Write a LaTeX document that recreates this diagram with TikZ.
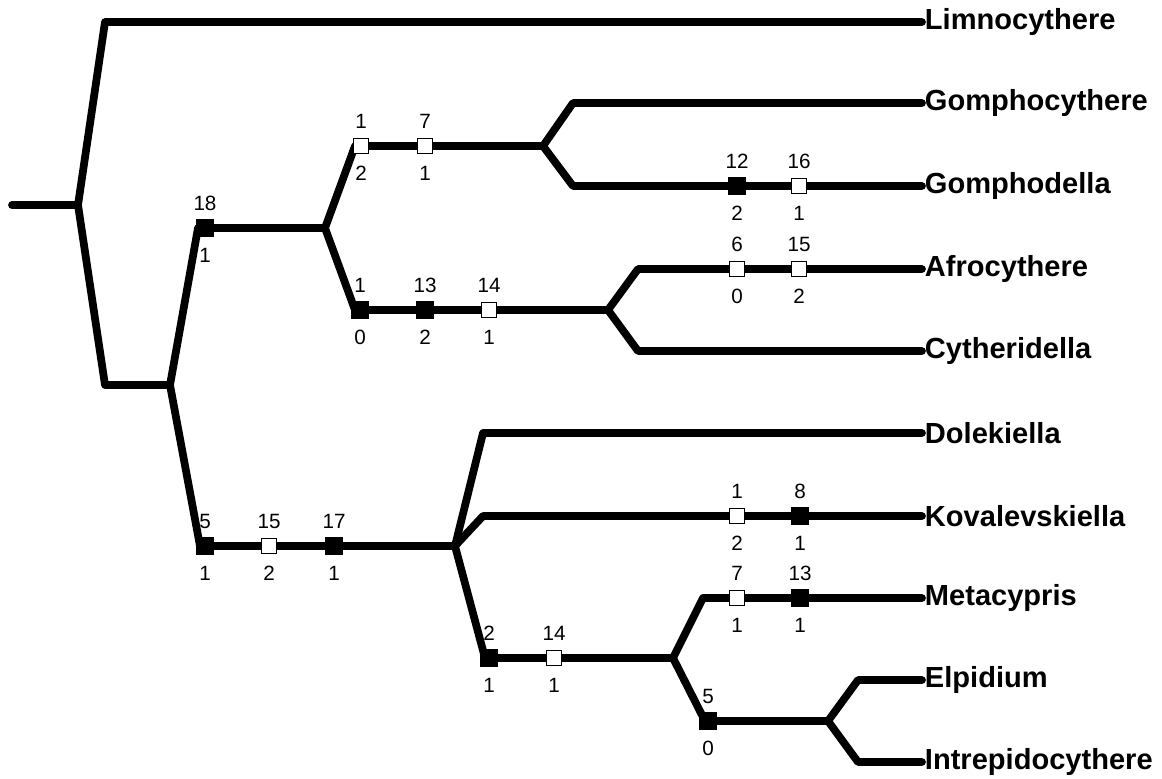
\documentclass[tikz,border=0pt]{standalone}
\usepackage{fontspec}
\setmainfont{Liberation Sans}
\usetikzlibrary{calc}
\newcommand\charbox[5]{%
  \node[#3] (#1) at (#2) {};
  \node[num] (#1t) at ($(#1)+(0,-25)$) {#4};
  \node[num] (#1b) at ($(#1)+(0,27)$) {#5};}
\begin{document}
\begin{tikzpicture}[x=0.75pt,y=-0.75pt,
 br/.style={line width=5.8pt, line join=round, line cap=round},
 wbox/.style={draw=black, fill=white, line width=1.1pt, minimum size=11.5pt, inner sep=0pt},
 bbox/.style={draw=black, fill=black, line width=1.1pt, minimum size=12pt, inner sep=0pt},
 leaf/.style={anchor=west, font=\fontsize{21.8}{24}\selectfont\bfseries, inner sep=2pt},
 num/.style={font=\fontsize{15.5}{17}\selectfont, inner sep=0pt}]
\useasboundingbox (0,0) rectangle (1162,778);
% leaves
\node[leaf] (Li) at (922,22) {Limnocythere};
\node[leaf] (Go) at (922,103) {Gomphocythere};
\node[leaf] (Gd) at (922,186) {Gomphodella};
\node[leaf] (Af) at (922,269) {Afrocythere};
\node[leaf] (Cy) at (922,351) {Cytheridella};
\node[leaf] (Do) at (922,433) {Dolekiella};
\node[leaf] (Ko) at (922,516) {Kovalevskiella};
\node[leaf] (Me) at (922,598) {Metacypris};
\node[leaf] (El) at (922,680) {Elpidium};
\node[leaf] (In) at (922,762) {Intrepidocythere};
% internal points
\coordinate (r0) at (12,205);
\coordinate (root) at (78,205);
\coordinate (kL) at (105,22);
\coordinate (kA) at (105,385);
\coordinate (nA) at (170,385);
\coordinate (kB) at (198,228);
\coordinate (nB) at (325,228);
\coordinate (kC) at (355,146);
\coordinate (nC) at (543,146);
\coordinate (kGo) at (573,103);
\coordinate (kGd) at (573,186);
\coordinate (kD) at (355,310);
\coordinate (nD) at (608,310);
\coordinate (kAf) at (638,269);
\coordinate (kCy) at (638,351);
\coordinate (kE) at (200,546);
\coordinate (nE) at (455,546);
\coordinate (kDo) at (483,433);
\coordinate (kKo) at (483,516);
\coordinate (kF) at (485,658);
\coordinate (nF) at (673,658);
\coordinate (kMe) at (703,598);
\coordinate (kG) at (705,721);
\coordinate (nG) at (828,721);
\coordinate (kEl) at (858,680);
\coordinate (kIn) at (858,762);
% branches
\draw[br] (r0) -- (root);
\draw[br] (root) -- (kL) -- (Li.west);
\draw[br] (root) -- (kA) -- (nA);
\draw[br] (nA) -- (kB) -- (nB);
\draw[br] (nB) -- (kC) -- (nC);
\draw[br] (nC) -- (kGo) -- (Go.west);
\draw[br] (nC) -- (kGd) -- (Gd.west);
\draw[br] (nB) -- (kD) -- (nD);
\draw[br] (nD) -- (kAf) -- (Af.west);
\draw[br] (nD) -- (kCy) -- (Cy.west);
\draw[br] (nA) -- (kE) -- (nE);
\draw[br] (nE) -- (kDo) -- (Do.west);
\draw[br] (nE) -- (kKo) -- (Ko.west);
\draw[br] (nE) -- (kF) -- (nF);
\draw[br] (nF) -- (kMe) -- (Me.west);
\draw[br] (nF) -- (kG) -- (nG);
\draw[br] (nG) -- (kEl) -- (El.west);
\draw[br] (nG) -- (kIn) -- (In.west);
% character boxes
\charbox{bA}{205,228}{bbox}{18}{1}
\charbox{bB}{361,146}{wbox}{1}{2}
\charbox{bC}{425,146}{wbox}{7}{1}
\charbox{bD}{737,186}{bbox}{12}{2}
\charbox{bE}{799,186}{wbox}{16}{1}
\charbox{bF}{360,310}{bbox}{1}{0}
\charbox{bG}{425,310}{bbox}{13}{2}
\charbox{bH}{489,310}{wbox}{14}{1}
\charbox{bI}{737,269}{wbox}{6}{0}
\charbox{bJ}{799,269}{wbox}{15}{2}
\charbox{bK}{205,546}{bbox}{5}{1}
\charbox{bL}{269,546}{wbox}{15}{2}
\charbox{bM}{334,546}{bbox}{17}{1}
\charbox{bN}{737,516}{wbox}{1}{2}
\charbox{bO}{800,516}{bbox}{8}{1}
\charbox{bP}{489,658}{bbox}{2}{1}
\charbox{bQ}{554,658}{wbox}{14}{1}
\charbox{bR}{737,598}{wbox}{7}{1}
\charbox{bS}{800,598}{bbox}{13}{1}
\charbox{bT}{708,721}{bbox}{5}{0}
\end{tikzpicture}
\end{document}
